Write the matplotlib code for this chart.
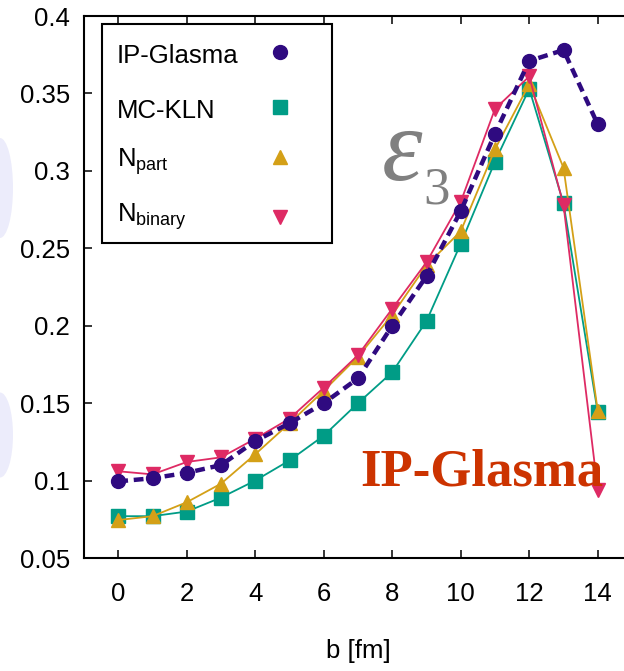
import numpy as np
import matplotlib
matplotlib.use("Agg")
import matplotlib.pyplot as plt
from matplotlib.patches import Ellipse, Rectangle

plt.rcParams['font.family'] = ['Liberation Sans', 'DejaVu Sans']
plt.rcParams['mathtext.fontset'] = 'custom'
plt.rcParams['mathtext.rm'] = 'Liberation Sans'
plt.rcParams['mathtext.it'] = 'Liberation Sans:italic'

# impact parameter [fm]
b = np.arange(0, 15)

# eps_3 for the four initial-state models
ip_glasma = [0.0995, 0.1015, 0.105, 0.110, 0.1255, 0.137, 0.150, 0.166,
             0.200, 0.232, 0.274, 0.324, 0.371, 0.378, 0.330]
mc_kln = [0.077, 0.077, 0.080, 0.089, 0.100, 0.113, 0.129, 0.150,
          0.170, 0.203, 0.253, 0.306, 0.353, 0.279, 0.144]
n_part = [0.0745, 0.077, 0.086, 0.098, 0.117, 0.137, 0.158, 0.180,
          0.207, 0.239, 0.261, 0.314, 0.356, 0.302, 0.145]
n_binary = [0.106, 0.104, 0.112, 0.115, 0.127, 0.140, 0.160, 0.181,
            0.211, 0.241, 0.280, 0.340, 0.361, 0.278, 0.094]

labels = ['IP-Glasma', 'MC-KLN', r'N$_{\mathrm{part}}$', r'N$_{\mathrm{binary}}$']
xticks = [0, 2, 4, 6, 8, 10, 12, 14]
yticks = [0.05, 0.1, 0.15, 0.2, 0.25, 0.3, 0.35, 0.4]
ytick_labels = ['0.05', '0.1', '0.15', '0.2', '0.25', '0.3', '0.35', '0.4']

purple = '#2f0a80'
teal = '#009c86'
gold = '#d4a017'
red = '#de2a64'

W, H = 624, 671
fig = plt.figure(figsize=(W / 100, H / 100), dpi=100)

# faint slide background blobs on the left edge
for cy, h in [(188, 100), (435, 85)]:
    fig.patches.append(Ellipse((0, 1 - cy / H), 26 / W, h / H, transform=fig.transFigure,
                               facecolor='#ececfb', edgecolor='none', zorder=0))

# axes box (right edge runs past the picture)
L, R, T, B = 84, 632, 16, 558
ax = fig.add_axes([L / W, (H - B) / H, (R - L) / W, (B - T) / H])
ax.set_facecolor('none')

def ax_xy(px, py):
    return (px - L) / (R - L), (B - py) / (B - T)

ax.plot(b, mc_kln, '-', color=teal, lw=1.3, marker='s', ms=10, zorder=3)
ax.plot(b, n_part, '-', color=gold, lw=1.3, marker='^', ms=10.5, zorder=4)
ax.plot(b, n_binary, '-', color=red, lw=1.3, marker='v', ms=10.5, zorder=5)
ax.plot(b, ip_glasma, '--', color=purple, lw=3.2, dashes=(2.2, 1.3),
        marker='o', ms=10, zorder=6)

ax.set_xlim(-1, 15)
ax.set_ylim(0.05, 0.4)
ax.set_xticks(xticks)
ax.set_yticks(yticks)
ax.set_yticklabels(ytick_labels)
ax.tick_params(direction='in', length=6, width=1.1, top=True, right=True,
               labelsize=18.5)
ax.tick_params(axis='y', pad=10)
ax.tick_params(axis='x', pad=17)
for s in ax.spines.values():
    s.set_linewidth(1.5)
ax.set_xlabel('b [fm]', fontsize=18.5, labelpad=24)

# gnuplot-style key: text on the left, marker on the right
x0, y0 = ax_xy(102, 243)
x1, y1 = ax_xy(332, 24)
ax.add_patch(Rectangle((x0, y0), x1 - x0, y1 - y0, transform=ax.transAxes,
                       facecolor='white', edgecolor='black', lw=1.5, zorder=8))
key_markers = [('o', purple, 10), ('s', teal, 10), ('^', gold, 10.5), ('v', red, 10.5)]
text_base = [63, 118, 167, 222]
mark_y = [52, 107, 157, 217]
for lab, (m, c, ms), tb, my in zip(labels, key_markers, text_base, mark_y):
    tx, ty = ax_xy(117, tb)
    ax.text(tx, ty, lab, transform=ax.transAxes, fontsize=18.5, va='baseline',
            ha='left', zorder=9)
    mx, myy = ax_xy(280, my)
    ax.plot([mx], [myy], linestyle='none', marker=m, color=c, ms=ms,
            transform=ax.transAxes, clip_on=False, zorder=9)

# annotations
fig.text(382 / W, 1 - 180 / H, '\u03b5', fontsize=74, color='#808080',
         family='Liberation Serif', style='italic', va='baseline')
fig.text(423 / W, 1 - 204 / H, '3', fontsize=38, color='#808080',
         family='Liberation Serif', va='baseline')
fig.text(360 / W, 1 - 485 / H, 'IP-Glasma', fontsize=38, color='#cc3300',
         family='Liberation Serif', weight='bold', va='baseline')

fig.savefig('out.png', dpi=100)
